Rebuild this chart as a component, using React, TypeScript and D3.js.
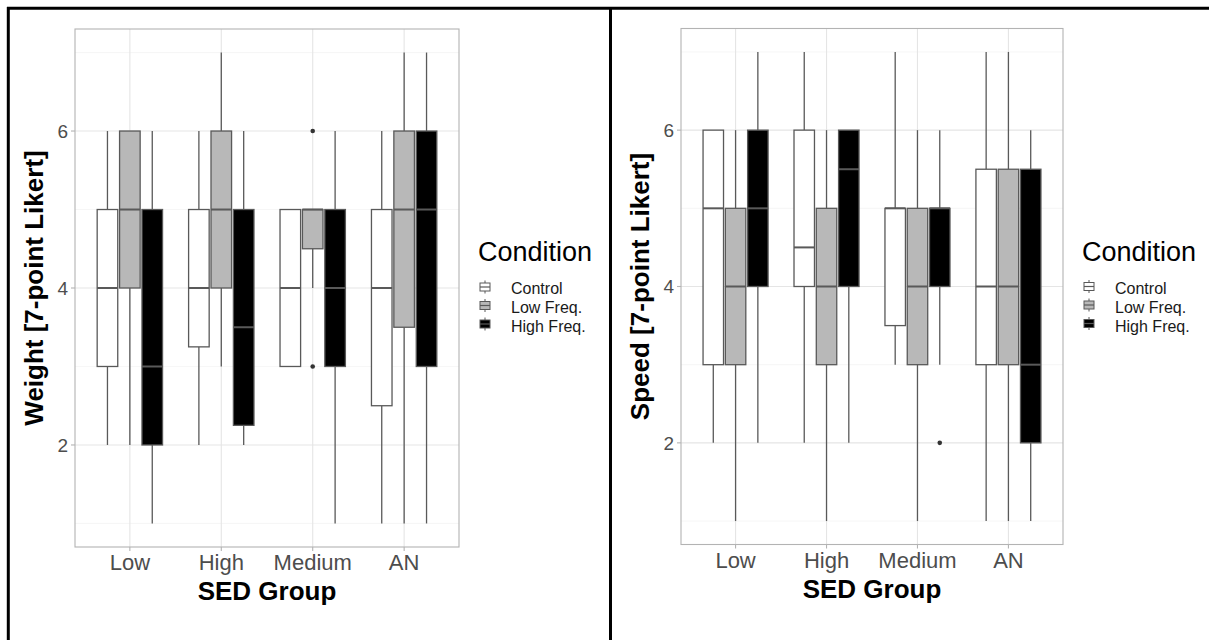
import React from 'react';
import * as d3 from 'd3';

const groups = ['Low', 'High', 'Medium', 'AN'];
const conditions = ['Control', 'Low Freq.', 'High Freq.'];
const fills = ['#ffffff', '#b8b8b8', '#000000'];
const yTicks = [2, 4, 6];
const yMinor = [1, 3, 5, 7];

// Weight panel: [condition][group]
const weightLower = [[2, 2, 3, 1], [2, 3, 4, 1], [1, 2, 1, 1]];
const weightQ1 = [[3, 3.25, 3, 2.5], [4, 4, 4.5, 3.5], [2, 2.25, 3, 3]];
const weightMedian = [[4, 4, 4, 4], [5, 5, 5, 5], [3, 3.5, 4, 5]];
const weightQ3 = [[5, 5, 5, 5], [6, 6, 5, 6], [5, 5, 5, 6]];
const weightUpper = [[6, 6, 5, 6], [6, 7, 5, 7], [6, 6, 6, 7]];
const weightOutliers = [
  { group: 2, cond: 1, value: 6 },
  { group: 2, cond: 1, value: 3 },
];

// Speed panel: [condition][group]
const speedLower = [[2, 2, 3, 1], [1, 1, 1, 1], [2, 2, 3, 1]];
const speedQ1 = [[3, 4, 3.5, 3], [3, 3, 3, 3], [4, 4, 4, 2]];
const speedMedian = [[5, 4.5, 5, 4], [4, 4, 4, 4], [5, 5.5, 5, 3]];
const speedQ3 = [[6, 6, 5, 5.5], [5, 5, 5, 5.5], [6, 6, 5, 5.5]];
const speedUpper = [[6, 7, 7, 7], [6, 6, 6, 7], [7, 6, 6, 6]];
const speedOutliers = [{ group: 2, cond: 2, value: 2 }];

const FONT = '"Liberation Sans", Arial, Helvetica, sans-serif';
const STROKE = '#595959';

type PanelProps = {
  left: number;
  right: number;
  top: number;
  bottom: number;
  yTitle: string;
  lower: number[][];
  q1: number[][];
  med: number[][];
  q3: number[][];
  upper: number[][];
  outliers: { group: number; cond: number; value: number }[];
};

function Panel(p: PanelProps) {
  const x = d3.scaleLinear().domain([0.4, 4.6]).range([p.left, p.right]);
  const y = d3.scaleLinear().domain([0.7, 7.3]).range([p.bottom, p.top]);
  const dodge = 0.245;
  const bw = 0.225;
  const unit = x(1) - x(0);
  const cx = (g: number, c: number) => x(g + 1 + (c - 1) * dodge);

  const legendX = p.right + 20;
  return (
    <g>
      {/* grid */}
      {yMinor.map((v) => (
        <line key={'mn' + v} x1={p.left} x2={p.right} y1={y(v)} y2={y(v)} stroke="#f2f2f2" strokeWidth={0.7} />
      ))}
      {yTicks.map((v) => (
        <line key={'mj' + v} x1={p.left} x2={p.right} y1={y(v)} y2={y(v)} stroke="#e5e5e5" strokeWidth={1.1} />
      ))}
      {groups.map((g, i) => (
        <line key={'vg' + g} x1={x(i + 1)} x2={x(i + 1)} y1={p.top} y2={p.bottom} stroke="#e5e5e5" strokeWidth={1.1} />
      ))}
      {/* boxes */}
      {conditions.map((c, ci) =>
        groups.map((g, gi) => {
          const xc = cx(gi, ci);
          const hw = (bw * unit) / 2;
          return (
            <g key={c + g}>
              <line x1={xc} x2={xc} y1={y(p.q3[ci][gi])} y2={y(p.upper[ci][gi])} stroke={STROKE} strokeWidth={1.3} />
              <line x1={xc} x2={xc} y1={y(p.q1[ci][gi])} y2={y(p.lower[ci][gi])} stroke={STROKE} strokeWidth={1.3} />
              <rect
                x={xc - hw}
                y={y(p.q3[ci][gi])}
                width={hw * 2}
                height={y(p.q1[ci][gi]) - y(p.q3[ci][gi])}
                fill={fills[ci]}
                stroke={STROKE}
                strokeWidth={1.3}
              />
              <line x1={xc - hw} x2={xc + hw} y1={y(p.med[ci][gi])} y2={y(p.med[ci][gi])} stroke={STROKE} strokeWidth={2} />
            </g>
          );
        })
      )}
      {p.outliers.map((o, i) => (
        <circle key={'o' + i} cx={cx(o.group, o.cond)} cy={y(o.value)} r={2.3} fill="#333" />
      ))}
      {/* panel border */}
      <rect x={p.left} y={p.top} width={p.right - p.left} height={p.bottom - p.top} fill="none" stroke="#b3b3b3" strokeWidth={1.1} />
      {/* y ticks */}
      {yTicks.map((v) => (
        <g key={'yt' + v}>
          <line x1={p.left - 4} x2={p.left} y1={y(v)} y2={y(v)} stroke="#b3b3b3" strokeWidth={1.1} />
          <text x={p.left - 7} y={y(v)} dy="0.36em" textAnchor="end" fontSize={19} fill="#4d4d4d" fontFamily={FONT}>
            {v}
          </text>
        </g>
      ))}
      {/* x ticks */}
      {groups.map((g, i) => (
        <g key={'xt' + g}>
          <line x1={x(i + 1)} x2={x(i + 1)} y1={p.bottom} y2={p.bottom + 4} stroke="#b3b3b3" strokeWidth={1.1} />
          <text x={x(i + 1)} y={p.bottom + 23} textAnchor="middle" fontSize={22} fill="#4d4d4d" fontFamily={FONT}>
            {g}
          </text>
        </g>
      ))}
      {/* titles */}
      <text x={(p.left + p.right) / 2} y={p.bottom + 53} textAnchor="middle" fontSize={26} fontWeight="bold" fill="#000" fontFamily={FONT}>
        SED Group
      </text>
      <text
        transform={`translate(${p.left - 32},${(p.top + p.bottom) / 2}) rotate(-90)`}
        textAnchor="middle"
        fontSize={26}
        fontWeight="bold"
        fill="#000"
        fontFamily={FONT}
      >
        {p.yTitle}
      </text>
      {/* legend */}
      <text x={legendX - 1} y={p.top + 232} fontSize={27} fill="#000" fontFamily={FONT}>
        Condition
      </text>
      {conditions.map((c, ci) => {
        const kc = p.top + 258 + ci * 18.5;
        const kx = legendX + 6;
        return (
          <g key={'lg' + c}>
            <line x1={kx} x2={kx} y1={kc - 6.5} y2={kc + 6.5} stroke={STROKE} strokeWidth={1} />
            <rect x={kx - 5} y={kc - 4} width={10} height={8} fill={fills[ci]} stroke={STROKE} strokeWidth={1} />
            <line x1={kx - 5} x2={kx + 5} y1={kc} y2={kc} stroke={STROKE} strokeWidth={1.2} />
            <text x={legendX + 32} y={p.top + 265 + ci * 19} fontSize={16} fill="#1a1a1a" fontFamily={FONT}>
              {c}
            </text>
          </g>
        );
      })}
    </g>
  );
}

export default function App() {
  return (
    <svg
      width={1209}
      height={640}
      style={{ position: 'absolute', left: 0, top: 0, background: '#fff' }}
      xmlns="http://www.w3.org/2000/svg"
    >
      <rect x={0} y={0} width={1209} height={640} fill="#fff" />
      <Panel
        left={75}
        right={459}
        top={29}
        bottom={547}
        yTitle="Weight [7-point Likert]"
        lower={weightLower}
        q1={weightQ1}
        med={weightMedian}
        q3={weightQ3}
        upper={weightUpper}
        outliers={weightOutliers}
      />
      <Panel
        left={681}
        right={1063}
        top={28.5}
        bottom={544.5}
        yTitle="Speed [7-point Likert]"
        lower={speedLower}
        q1={speedQ1}
        med={speedMedian}
        q3={speedQ3}
        upper={speedUpper}
        outliers={speedOutliers}
      />
      {/* frame */}
      <line x1={7} x2={1209} y1={8.3} y2={8.3} stroke="#000" strokeWidth={3} />
      <line x1={8.3} x2={8.3} y1={7} y2={640} stroke="#000" strokeWidth={3} />
      <line x1={610.5} x2={610.5} y1={7} y2={640} stroke="#000" strokeWidth={3} />
    </svg>
  );
}
